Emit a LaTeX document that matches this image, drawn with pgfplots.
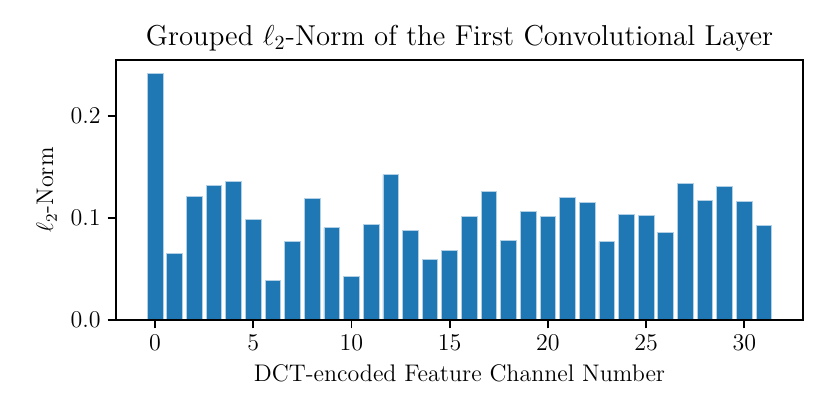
\documentclass[border=0pt]{standalone}
\usepackage{pgfplots}
\pgfplotsset{compat=1.18}
\definecolor{mplblue}{HTML}{1F77B4}
\begin{document}
\begin{tikzpicture}
\begin{axis}[
  scale only axis,
  width=343.5pt, height=130pt,
  xmin=-1.99, xmax=32.99,
  ymin=0, ymax=0.2549,
  axis on top,
  axis line style={line width=0.9pt},
  every tick/.style={black, line width=0.9pt},
  tick align=outside,
  major tick length=4.2pt,
  xtick={0,5,10,15,20,25,30},
  ytick={0,0.1,0.2},
  xtick pos=bottom, ytick pos=left,
  tick label style={font=\fontsize{12}{14}\selectfont},
  label style={font=\fontsize{12}{14}\selectfont},
  title style={font=\fontsize{14.4}{17}\selectfont, yshift=-5pt},
  yticklabel style={/pgf/number format/fixed, /pgf/number format/fixed zerofill, /pgf/number format/precision=1},
  scaled y ticks=false,
  title={Grouped $\ell_2$-Norm of the First Convolutional Layer},
  xlabel={DCT-encoded Feature Channel Number},
  ylabel={$\ell_2$-Norm},
  ybar, bar width=0.8,
]
\addplot[fill=mplblue, draw=white!65!mplblue, line width=0.4pt] coordinates {
(0,0.2419) (1,0.0656) (2,0.1208) (3,0.1315) (4,0.1357) (5,0.0987) (6,0.0386) (7,0.0769)
(8,0.1192) (9,0.0906) (10,0.0425) (11,0.0938) (12,0.1425) (13,0.0877) (14,0.0591) (15,0.0685)
(16,0.1019) (17,0.1256) (18,0.0782) (19,0.1062) (20,0.1016) (21,0.1198) (22,0.1149) (23,0.0766)
(24,0.1032) (25,0.1026) (26,0.0857) (27,0.1338) (28,0.1172) (29,0.1308) (30,0.1166) (31,0.0929)
};
\end{axis}
\path (current axis.south west) ++(-58pt,-47.5pt) coordinate (bbA);
\path (current axis.north east) ++(13.5pt,30pt) coordinate (bbB);
\path (bbA) rectangle (bbB);
\end{tikzpicture}
\end{document}
